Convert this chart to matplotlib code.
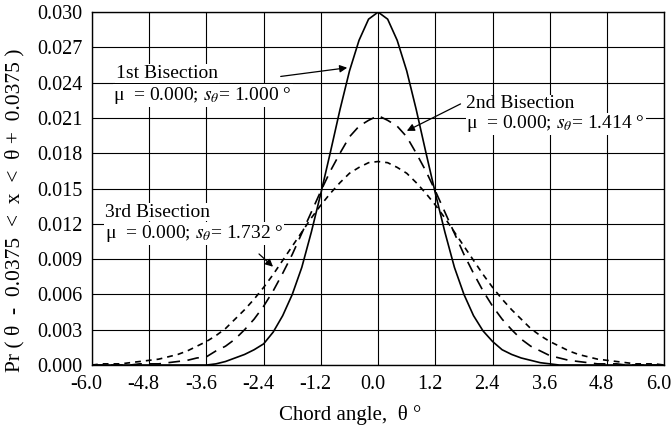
import numpy as np
import matplotlib
matplotlib.use("Agg")
import matplotlib.pyplot as plt
from matplotlib.transforms import ScaledTranslation

plt.rcParams['font.family'] = ['Liberation Serif', 'DejaVu Serif']
plt.rcParams['mathtext.fontset'] = 'stix'

# chord angle (deg), read every 0.2 deg
theta = np.round(np.arange(-6.0, 6.0001, 0.2), 1)

# 1st bisection (solid)
first = [0, 0, 0, 0, 0, 0, 0, 0, 0, 0, 0, 0, 0,
         .0001, .0003, .0006, .0009, .0013, .0018, .0028, .0042, .0060, .0083,
         .0113, .0146, .0181, .0217, .0250, .0276, .0294,
         .0300,
         .0294, .0276, .0250, .0217, .0181, .0146, .0113, .0083, .0060, .0042,
         .0029, .0020, .0013, .0009, .0006, .0004, .0002, .0001,
         0, 0, 0, 0, 0, 0, 0, 0, 0, 0, 0, 0]

# 2nd bisection (long dash)
second = [0, 0, 0, 0, 0, .0001, .0001, .0001, .0002, .0003, .0004, .0006, .0007,
          .0012, .0016, .0022, .0030, .0039, .0050, .0063, .0078, .0094, .0112,
          .0130, .0148, .0165, .0180, .0194, .0203, .0208,
          .0212,
          .0208, .0203, .0194, .0180, .0165, .0148, .0130, .0112, .0094, .0078,
          .0063, .0050, .0039, .0030, .0022, .0016, .0012, .0008, .0006, .0004,
          .0003, .0002, .0001, .0001, .0001, 0, 0, 0, 0, 0]

# 3rd bisection (short dash)
third = [0, .0001, .0001, .0001, .0002, .0003, .0004, .0005, .0007, .0009, .0012,
         .0016, .0020, .0025, .0031, .0039, .0047, .0056, .0066, .0077, .0089,
         .0101, .0113, .0125, .0136, .0146, .0155, .0163, .0168, .0172,
         .0173,
         .0172, .0168, .0163, .0155, .0146, .0136, .0125, .0113, .0101, .0089,
         .0077, .0066, .0056, .0047, .0039, .0031, .0025, .0020, .0016, .0012,
         .0009, .0007, .0005, .0004, .0003, .0002, .0001, .0001, .0001, 0]

xticks = np.round(np.arange(-6.0, 6.01, 1.2), 1)
yticks = np.round(np.arange(0, 0.0301, 0.003), 3)

fig = plt.figure(figsize=(6.71, 4.32), dpi=100)
ax = fig.add_axes([0.137, 0.155, 0.853, 0.817])

ax.plot(theta, first, color='black', lw=1.2)
ax.plot(theta, second, color='black', lw=1.2, dashes=(7, 4.5))
ax.plot(theta, third, color='black', lw=1.2, dashes=(3.5, 3))

ax.set_xlim(-6, 6)
ax.set_ylim(0, 0.030)
ax.set_xticks(xticks)
ax.set_yticks(yticks)
ax.set_xticklabels(['%.1f' % v for v in xticks])
ax.set_yticklabels(['%.3f' % v for v in yticks])
ax.tick_params(labelsize=14.5, length=0)
ax.tick_params(axis='y', pad=7)
ax.tick_params(axis='x', pad=7)
shift = ScaledTranslation(-4 / 72, 0, fig.dpi_scale_trans)
for lab in ax.get_xticklabels():
    lab.set_transform(lab.get_transform() + shift)
ax.grid(True, color='black', lw=0.8)
for s in ax.spines.values():
    s.set_linewidth(1.0)

fig.text(350 / 671, 1 - 415 / 432, 'Chord angle,  θ °', fontsize=15,
         ha='center', va='center')
fig.text(15 / 671, 1 - 210 / 432, 'Pr ( θ  -  0.0375  <  x  <  θ +  0.0375 )',
         fontsize=15.5, ha='center', va='center', rotation=90)

fs = 14
bb = dict(facecolor='white', edgecolor='none', pad=0.5)
arr = dict(arrowstyle='-|>', color='black', lw=0.9, mutation_scale=11)
ax.text(-5.5, 0.0248, '1st Bisection', fontsize=fs, va='center', bbox=bb)
ax.text(-5.55, 0.0229, r'μ  = 0.000; $s_{\theta}$= 1.000 °', fontsize=fs, va='center', bbox=bb)
ax.annotate('', xy=(-0.59, 0.0253), xytext=(-2.1, 0.0245), arrowprops=arr)

ax.text(1.85, 0.0222, '2nd Bisection', fontsize=fs, va='center', bbox=bb)
ax.text(1.85, 0.0205, r'μ  = 0.000; $s_{\theta}$= 1.414 °', fontsize=fs, va='center', bbox=bb)
ax.annotate('', xy=(0.55, 0.0198), xytext=(1.78, 0.0223), arrowprops=arr)

ax.text(-5.73, 0.0130, '3rd Bisection', fontsize=fs, va='center', bbox=bb)
ax.text(-5.73, 0.0112, r'μ  = 0.000; $s_{\theta}$= 1.732 °', fontsize=fs, va='center', bbox=bb)
ax.annotate('', xy=(-2.16, 0.0082), xytext=(-2.54, 0.0096), arrowprops=arr)

fig.savefig('out.png', dpi=100)
